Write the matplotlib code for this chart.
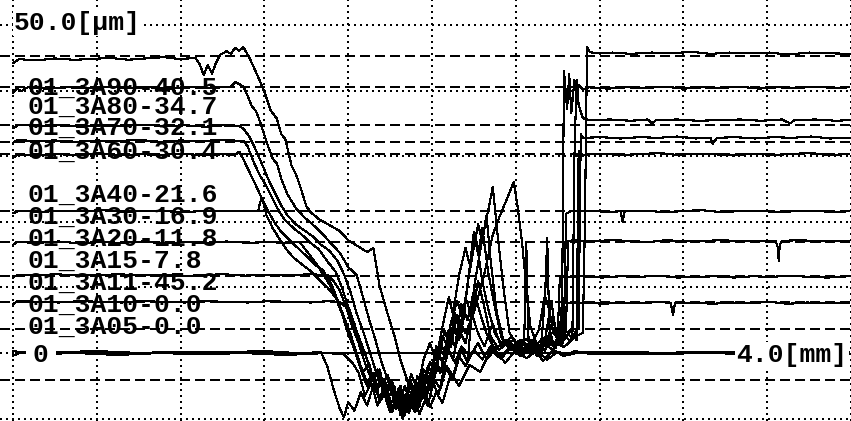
import numpy as np
import matplotlib
matplotlib.use("Agg")
import matplotlib.pyplot as plt

plt.rcParams["lines.antialiased"] = False

# sample names and printed offsets [um]
samples = ["01_3A90", "01_3A80", "01_3A70", "01_3A60", "01_3A40", "01_3A30",
           "01_3A20", "01_3A15", "01_3A11", "01_3A10", "01_3A05"]
offsets = [40.5, 34.7, 32.1, 30.4, 21.6, 16.9, 11.8, 7.8, 45.2, 0.0, 0.0]
ref_levels = [3.7, -4.1]

# profiles: (x [mm], z [um])
p_3a11 = [(0.00, 44.2), (0.03, 44.8), (0.11, 44.6), (0.20, 44.9), (0.29, 44.7), (0.37, 44.8),
          (0.46, 45.0), (0.55, 44.7), (0.63, 44.9), (0.72, 45.1), (0.80, 44.8), (0.87, 45.0),
          (0.89, 44.1), (0.91, 42.4), (0.93, 43.9), (0.95, 42.6), (0.97, 44.3), (0.99, 45.5),
          (1.02, 46.0), (1.04, 45.6), (1.06, 46.5), (1.08, 46.1), (1.10, 46.6), (1.13, 44.9),
          (1.17, 42.1), (1.20, 39.8), (1.23, 37.0), (1.26, 35.7), (1.28, 33.4), (1.30, 32.6),
          (1.33, 28.5), (1.35, 27.3), (1.37, 25.5), (1.40, 22.4), (1.42, 21.5), (1.46, 20.4),
          (1.51, 19.5), (1.56, 18.6), (1.60, 17.2), (1.65, 16.2), (1.69, 15.4), (1.72, 16.0),
          (1.75, 10.2), (1.79, 5.8), (1.82, 2.7), (1.85, -1.1), (1.89, -4.9), (1.93, -7.2),
          (1.96, -5.0), (1.99, -8.3), (2.02, -6.0), (2.05, -7.6), (2.09, -3.2), (2.13, -5.0),
          (2.18, -1.8), (2.23, -2.9), (2.28, 0.4), (2.33, -0.9), (2.38, 1.1), (2.43, 0.0),
          (2.48, 1.5), (2.53, 0.4), (2.58, 1.7), (2.63, 0.9), (2.68, 2.4), (2.72, 3.1),
          (2.73, 20.0), (2.74, 46.6), (2.75, 46.0), (2.77, 45.7), (2.86, 45.8), (2.95, 45.6),
          (3.05, 45.8), (3.14, 45.7), (3.24, 45.9), (3.33, 45.6), (3.42, 45.8), (3.52, 45.7),
          (3.61, 45.8), (3.70, 45.5), (3.80, 45.8), (3.89, 45.7), (3.99, 45.6)]

p_3a90 = [(0.00, 39.7), (0.02, 40.3), (0.04, 39.9), (0.07, 40.5), (0.16, 40.3), (0.26, 40.5),
          (0.35, 40.4), (0.45, 40.6), (0.55, 40.4), (0.65, 40.5), (0.75, 40.3), (0.85, 40.5),
          (0.95, 40.4), (1.04, 40.6), (1.06, 41.3), (1.08, 41.0), (1.10, 40.6), (1.12, 39.2),
          (1.14, 37.6), (1.16, 36.9), (1.18, 35.2), (1.21, 32.2), (1.24, 29.6), (1.26, 28.9),
          (1.28, 26.6), (1.31, 24.2), (1.35, 22.1), (1.39, 20.7), (1.43, 19.6), (1.48, 18.1),
          (1.52, 16.6), (1.56, 15.3), (1.60, 13.1), (1.64, 11.9), (1.67, 8.6), (1.70, 5.1),
          (1.73, 2.0), (1.76, -1.5), (1.79, -4.2), (1.82, -6.8), (1.85, -5.0), (1.88, -8.6),
          (1.91, -6.1), (1.94, -9.3), (1.97, -7.0), (2.00, -4.1), (2.03, -6.5), (2.06, -2.1),
          (2.10, -4.0), (2.14, 0.5), (2.17, -1.4), (2.20, 9.8), (2.24, 17.5), (2.27, 22.0),
          (2.29, 25.3), (2.31, 19.0), (2.34, 10.2), (2.37, 3.1), (2.41, 0.9), (2.45, 2.2),
          (2.50, 0.5), (2.55, 1.8), (2.59, 0.8), (2.62, 3.0), (2.63, 43.0), (2.645, 37.2),
          (2.655, 42.5), (2.665, 36.6), (2.68, 41.6), (2.69, 38.6), (2.70, 40.8), (2.72, 40.2),
          (2.75, 40.5), (2.84, 40.3), (2.93, 40.5), (3.02, 40.4), (3.11, 40.6), (3.20, 40.3),
          (3.29, 40.5), (3.38, 40.4), (3.47, 40.6), (3.56, 40.3), (3.65, 40.5), (3.74, 40.4),
          (3.83, 40.6), (3.92, 40.4), (3.99, 40.5)]

p_3a80 = [(0.00, 34.3), (0.03, 34.8), (0.12, 34.6), (0.22, 34.7), (0.32, 34.5), (0.42, 34.7),
          (0.52, 34.6), (0.62, 34.8), (0.72, 34.6), (0.82, 34.7), (0.92, 34.5), (1.00, 34.7),
          (1.08, 34.6), (1.10, 34.2), (1.13, 32.9), (1.16, 30.9), (1.19, 28.7), (1.22, 26.4),
          (1.25, 24.4), (1.28, 22.5), (1.31, 21.0), (1.35, 19.6), (1.39, 18.7), (1.43, 17.8),
          (1.47, 16.5), (1.51, 15.6), (1.55, 14.0), (1.58, 12.0), (1.61, 9.4), (1.64, 6.1),
          (1.67, 3.4), (1.70, 0.5), (1.73, -2.6), (1.76, -5.1), (1.79, -3.4), (1.82, -7.6),
          (1.85, -5.4), (1.88, -9.0), (1.91, -6.4), (1.94, -8.2), (1.97, -3.1), (2.00, -5.6),
          (2.03, -1.0), (2.06, 3.4), (2.09, 0.9), (2.12, 5.8), (2.16, 3.0), (2.20, 6.2),
          (2.25, 12.1), (2.29, 18.0), (2.32, 20.6), (2.35, 22.9), (2.39, 26.1), (2.41, 22.0),
          (2.43, 16.8), (2.45, 10.1), (2.47, 4.0), (2.50, 1.4), (2.55, 2.6), (2.60, 1.2),
          (2.64, 3.4), (2.67, 2.1), (2.68, 30.0), (2.69, 41.6), (2.70, 37.8), (2.72, 35.8),
          (2.75, 35.5), (2.85, 35.6), (2.95, 35.4), (3.03, 35.6), (3.05, 35.0), (3.07, 35.5),
          (3.17, 35.6), (3.27, 35.4), (3.37, 35.5), (3.47, 35.6), (3.57, 35.4), (3.67, 35.6),
          (3.71, 35.0), (3.73, 35.5), (3.83, 35.6), (3.93, 35.4), (3.99, 35.5)]

p_3a70 = [(0.00, 32.0), (0.02, 32.5), (0.10, 32.3), (0.20, 32.4), (0.30, 32.2), (0.40, 32.4),
          (0.50, 32.3), (0.60, 32.5), (0.70, 32.2), (0.80, 32.4), (0.90, 32.3), (1.00, 32.5),
          (1.10, 32.3), (1.12, 31.5), (1.15, 29.0), (1.18, 27.0), (1.21, 25.4), (1.24, 23.5),
          (1.27, 21.6), (1.30, 20.2), (1.34, 19.0), (1.38, 18.0), (1.42, 16.8), (1.46, 15.8),
          (1.50, 14.0), (1.54, 12.4), (1.57, 10.0), (1.60, 7.1), (1.63, 4.4), (1.66, 1.5),
          (1.69, -1.0), (1.72, -4.1), (1.75, -2.5), (1.78, -6.6), (1.81, -4.4), (1.84, -8.1),
          (1.87, -5.0), (1.90, -7.8), (1.93, -3.5), (1.96, -6.0), (1.99, -1.4), (2.02, -3.0),
          (2.05, 2.6), (2.08, 0.5), (2.11, 6.1), (2.14, 3.0), (2.17, 10.6), (2.20, 16.1),
          (2.22, 19.6), (2.24, 17.0), (2.26, 21.0), (2.28, 14.1), (2.31, 6.0), (2.34, 2.1),
          (2.38, 0.5), (2.43, 2.0), (2.48, 0.0), (2.53, 1.6), (2.58, 0.4), (2.62, 3.1),
          (2.66, 1.8), (2.70, 4.0), (2.71, 33.4), (2.72, 32.8), (2.81, 32.9), (2.90, 32.7),
          (2.99, 32.9), (3.08, 32.8), (3.17, 33.0), (3.26, 32.7), (3.33, 32.8), (3.34, 31.9),
          (3.36, 32.8), (3.45, 32.9), (3.54, 32.7), (3.63, 32.9), (3.72, 32.8), (3.81, 33.0),
          (3.90, 32.7), (3.99, 32.8)]

p_3a60 = [(0.00, 29.7), (0.02, 30.3), (0.11, 30.1), (0.21, 30.3), (0.31, 30.2), (0.41, 30.4),
          (0.51, 30.1), (0.61, 30.3), (0.71, 30.2), (0.81, 30.4), (0.91, 30.1), (1.00, 30.3),
          (1.06, 30.2), (1.08, 30.7), (1.10, 29.5), (1.13, 27.5), (1.16, 25.5), (1.19, 23.4),
          (1.22, 21.5), (1.25, 19.8), (1.28, 18.5), (1.32, 17.2), (1.36, 16.0), (1.40, 14.8),
          (1.44, 13.5), (1.48, 12.6), (1.52, 10.5), (1.55, 8.0), (1.58, 5.5), (1.61, 3.0),
          (1.64, 0.0), (1.67, -3.0), (1.70, -1.5), (1.73, -5.5), (1.76, -3.8), (1.79, -7.0),
          (1.82, -5.0), (1.85, -9.5), (1.88, -6.0), (1.91, -8.0), (1.94, -4.0), (1.97, -6.5),
          (2.00, -2.0), (2.03, 1.0), (2.06, -0.5), (2.09, 4.5), (2.12, 8.0), (2.15, 5.0),
          (2.18, 13.0), (2.20, 18.5), (2.22, 15.0), (2.24, 19.0), (2.27, 12.0), (2.30, 7.0),
          (2.33, 2.5), (2.37, 0.5), (2.42, 2.0), (2.47, 0.3), (2.52, 1.0), (2.54, 8.6),
          (2.56, 6.5), (2.58, 3.0), (2.62, 1.5), (2.66, 3.5), (2.69, 2.0), (2.70, 30.8),
          (2.72, 30.2), (2.81, 30.4), (2.90, 30.2), (2.99, 30.3), (3.08, 30.5), (3.17, 30.2),
          (3.26, 30.4), (3.35, 30.3), (3.44, 30.1), (3.53, 30.4), (3.62, 30.2), (3.71, 30.3),
          (3.80, 30.5), (3.89, 30.2), (3.99, 30.3)]

p_3a40 = [(0.00, 21.3), (0.03, 21.7), (0.13, 21.5), (0.23, 21.7), (0.33, 21.6), (0.43, 21.8),
          (0.53, 21.5), (0.63, 21.7), (0.73, 21.6), (0.83, 21.5), (0.93, 21.7), (1.03, 21.6),
          (1.11, 21.7), (1.17, 21.6), (1.18, 23.0), (1.19, 23.5), (1.21, 21.0), (1.24, 19.0),
          (1.27, 17.5), (1.30, 16.0), (1.34, 14.5), (1.38, 13.5), (1.42, 12.5), (1.46, 11.2),
          (1.50, 10.0), (1.54, 8.5), (1.57, 6.0), (1.60, 3.5), (1.63, 1.0), (1.66, -2.0),
          (1.69, -4.5), (1.72, -3.0), (1.75, -7.0), (1.78, -5.2), (1.81, -8.8), (1.84, -6.0),
          (1.87, -7.5), (1.90, -3.2), (1.93, -5.5), (1.96, -1.0), (1.99, 1.5), (2.02, -1.0),
          (2.05, 4.0), (2.08, 8.5), (2.10, 6.0), (2.13, 12.0), (2.16, 16.0), (2.18, 13.5),
          (2.21, 17.5), (2.24, 11.0), (2.27, 6.5), (2.30, 3.0), (2.34, 1.0), (2.39, 2.0),
          (2.44, 0.5), (2.49, 1.5), (2.54, 0.3), (2.58, 5.5), (2.60, 2.0), (2.63, 3.5),
          (2.64, 21.2), (2.66, 21.6), (2.75, 21.7), (2.84, 21.5), (2.90, 21.6), (2.91, 20.0),
          (2.92, 21.6), (3.01, 21.7), (3.10, 21.5), (3.19, 21.6), (3.28, 21.8), (3.37, 21.5),
          (3.46, 21.6), (3.55, 21.7), (3.64, 21.5), (3.73, 21.6), (3.82, 21.7), (3.91, 21.5),
          (3.99, 21.6)]

p_3a30 = [(0.00, 16.5), (0.02, 16.9), (0.12, 16.8), (0.22, 17.0), (0.32, 16.7), (0.42, 16.9),
          (0.52, 16.8), (0.62, 17.0), (0.72, 16.7), (0.82, 16.9), (0.92, 16.8), (1.02, 17.0),
          (1.12, 16.8), (1.22, 16.9), (1.30, 16.8), (1.37, 16.9), (1.39, 16.0), (1.42, 14.8),
          (1.45, 13.5), (1.48, 12.0), (1.51, 10.5), (1.54, 8.5), (1.57, 6.0), (1.60, 3.0),
          (1.63, 0.5), (1.66, -2.5), (1.69, -5.0), (1.72, -3.5), (1.75, -7.5), (1.78, -5.8),
          (1.81, -9.0), (1.84, -6.5), (1.87, -8.0), (1.90, -4.5), (1.93, -6.8), (1.96, -2.5),
          (1.99, -4.0), (2.02, 1.0), (2.05, -1.5), (2.08, 3.5), (2.11, 1.0), (2.14, 7.5),
          (2.17, 5.0), (2.20, 9.5), (2.23, 6.0), (2.26, 3.0), (2.30, 0.5), (2.35, 2.0),
          (2.40, 0.0), (2.44, 1.5), (2.45, 16.9), (2.46, 2.5), (2.50, -0.5), (2.54, 2.0),
          (2.57, 8.0), (2.59, 3.0), (2.62, 1.0), (2.64, 4.0), (2.65, 17.0), (2.67, 17.2),
          (2.76, 17.0), (2.85, 17.2), (2.94, 17.1), (3.03, 16.9), (3.12, 17.2), (3.21, 17.0),
          (3.30, 17.1), (3.39, 17.2), (3.48, 17.0), (3.57, 17.1), (3.64, 17.1), (3.65, 16.2),
          (3.655, 14.0), (3.66, 16.5), (3.67, 17.1), (3.76, 17.2), (3.85, 17.0), (3.94, 17.1),
          (3.99, 17.0)]

p_3a20 = [(0.00, 11.5), (0.02, 11.9), (0.11, 11.8), (0.21, 12.0), (0.31, 11.8), (0.41, 11.9),
          (0.51, 12.0), (0.61, 11.8), (0.71, 11.9), (0.81, 11.7), (0.91, 11.9), (1.01, 12.0),
          (1.11, 11.8), (1.21, 11.9), (1.31, 11.8), (1.41, 12.0), (1.50, 11.9), (1.53, 11.0),
          (1.56, 9.5), (1.59, 7.0), (1.62, 4.0), (1.65, 1.5), (1.68, -1.5), (1.71, -4.0),
          (1.74, -2.5), (1.77, -6.5), (1.80, -4.5), (1.83, -8.5), (1.86, -6.0), (1.89, -9.2),
          (1.92, -5.0), (1.95, -7.0), (1.98, -2.0), (2.01, -3.5), (2.04, 1.5), (2.07, -0.5),
          (2.10, 4.0), (2.13, 2.0), (2.16, 8.5), (2.19, 5.5), (2.22, 11.0), (2.25, 7.0),
          (2.28, 2.5), (2.32, 0.5), (2.37, 1.8), (2.42, -0.5), (2.47, 1.0), (2.51, 3.5),
          (2.54, 9.0), (2.55, 17.5), (2.56, 4.0), (2.58, 1.0), (2.60, 2.5), (2.61, 11.5),
          (2.63, 11.6), (2.72, 11.7), (2.81, 11.5), (2.90, 11.7), (2.99, 11.6), (3.08, 11.8),
          (3.17, 11.5), (3.26, 11.6), (3.35, 11.7), (3.44, 11.5), (3.53, 11.7), (3.62, 11.6),
          (3.71, 11.8), (3.80, 11.6), (3.89, 11.5), (3.99, 11.7)]

p_3a15 = [(0.00, 7.4), (0.02, 7.9), (0.12, 7.8), (0.22, 7.7), (0.32, 7.9), (0.42, 7.8),
          (0.52, 7.7), (0.62, 7.9), (0.72, 7.8), (0.82, 7.7), (0.92, 7.9), (1.02, 7.8),
          (1.12, 7.7), (1.22, 7.9), (1.32, 7.8), (1.42, 7.7), (1.50, 7.9), (1.56, 7.8),
          (1.59, 7.0), (1.62, 5.0), (1.65, 2.5), (1.68, 0.0), (1.71, -3.0), (1.74, -5.5),
          (1.77, -4.0), (1.80, -8.0), (1.83, -6.0), (1.86, -9.5), (1.89, -7.0), (1.92, -8.5),
          (1.95, -4.0), (1.98, -6.0), (2.01, -1.5), (2.04, -3.0), (2.07, 1.0), (2.10, -1.0),
          (2.13, 3.5), (2.16, 1.5), (2.19, 6.0), (2.22, 3.0), (2.25, 1.0), (2.29, 4.5),
          (2.33, 1.0), (2.38, 2.5), (2.43, 0.5), (2.48, 2.0), (2.52, 0.0), (2.55, 2.5),
          (2.58, 1.0), (2.61, 3.0), (2.62, 7.7), (2.64, 7.6), (2.73, 7.7), (2.82, 7.5),
          (2.91, 7.7), (3.00, 7.6), (3.09, 7.8), (3.14, 7.6), (3.15, 5.8), (3.16, 7.6),
          (3.25, 7.7), (3.34, 7.5), (3.43, 7.7), (3.52, 7.6), (3.61, 7.8), (3.70, 7.5),
          (3.79, 7.7), (3.88, 7.6), (3.99, 7.7)]

p_3a10 = [(0.00, -0.4), (0.05, 0.2), (0.20, 0.1), (0.40, 0.3), (0.60, 0.0), (0.80, 0.2),
          (1.00, 0.1), (1.20, 0.3), (1.35, 0.0), (1.47, 0.1), (1.50, -2.0), (1.53, -5.5),
          (1.56, -8.5), (1.58, -9.8), (1.60, -7.5), (1.63, -8.8), (1.66, -6.0), (1.69, -8.0),
          (1.72, -5.0), (1.75, -7.0), (1.78, -4.5), (1.81, -8.5), (1.84, -5.5), (1.87, -9.5),
          (1.90, -6.0), (1.93, -7.5), (1.96, -3.5), (1.99, -5.0), (2.02, -1.5), (2.05, -3.0),
          (2.08, 0.5), (2.11, -1.5), (2.14, 1.0), (2.18, -0.5), (2.22, 1.5), (2.26, -1.0),
          (2.30, 0.5), (2.35, -1.5), (2.40, 0.5), (2.45, -0.8), (2.50, 0.3), (2.55, -1.0),
          (2.60, 0.2), (2.65, -0.3), (2.70, 0.1), (2.90, 0.2), (3.10, 0.0), (3.30, 0.2),
          (3.50, 0.1), (3.99, 0.1)]

p_3a05 = [(0.00, 0.3), (0.10, -0.2), (0.30, 0.0), (0.50, -0.3), (0.70, 0.0), (0.90, -0.2),
          (1.10, 0.0), (1.30, -0.3), (1.50, 0.0), (1.58, -0.2), (1.62, -1.5), (1.65, -3.0),
          (1.68, -6.5), (1.71, -4.5), (1.74, -8.0), (1.77, -6.0), (1.80, -9.0), (1.83, -7.0),
          (1.86, -10.0), (1.89, -7.5), (1.92, -9.0), (1.95, -6.0), (1.98, -8.0), (2.01, -4.0),
          (2.04, -5.5), (2.07, -2.0), (2.10, -3.5), (2.13, -0.5), (2.16, -2.0), (2.20, 0.5),
          (2.24, -1.0), (2.28, 1.0), (2.33, -0.5), (2.38, 1.2), (2.43, -0.3), (2.48, 0.8),
          (2.53, -1.2), (2.58, 0.5), (2.63, -0.5), (2.68, 0.3), (2.75, -0.1), (3.00, -0.2),
          (3.30, 0.0), (3.60, -0.2), (3.99, -0.1)]

profiles = [p_3a90, p_3a80, p_3a70, p_3a60, p_3a40, p_3a30,
            p_3a20, p_3a15, p_3a11, p_3a10, p_3a05]

# where the instrument printed the sample list (z in um)
label_z = [40.4, 37.5, 34.3, 30.6, 24.1, 20.7, 17.4, 14.0, 10.7, 7.3, 4.0]

font = dict(family="Liberation Mono", weight="bold", size=19, color="black")
dots = (0, (1.0, 2.2))
dashes = (0, (5.0, 2.8))

fig = plt.figure(figsize=(8.51, 4.21), dpi=100)
ax = fig.add_axes([0, 0, 1, 1])
ax.set_xlim(-13 / 210, 838 / 210)
ax.set_ylim(-68 / 6.56, 353 / 6.56)

ax.set_xticks(np.arange(0, 4.01, 0.4))
ax.set_yticks(np.arange(-10, 51, 10))
ax.grid(True, color="black", linestyle=dots, linewidth=1.44)
ax.set_axisbelow(True)
ax.tick_params(length=0, labelbottom=False, labelleft=False)
for s in ax.spines.values():
    s.set_visible(False)

# reference levels for every sample
for z in offsets + ref_levels:
    if z != 0:
        ax.axhline(z, color="black", linestyle=dashes, linewidth=1.44, zorder=1)

ax.plot([0.25, 3.45], [0, 0], color="black", linewidth=1.2, zorder=2)

for prof in profiles:
    xs, zs = zip(*prof)
    ax.plot(xs, zs, color="black", linewidth=0.8, zorder=2)

for name, off, z in zip(samples, offsets, label_z):
    ax.text(0.071, z, f"{name}-{off:.1f}", ha="left", va="center", zorder=3, **font)

box = dict(facecolor="white", edgecolor="none", pad=1.0)
ax.text(0.005, 50.3, "50.0[µm]", ha="left", va="center", zorder=4, bbox=box, **font)
ax.text(0.095, -0.3, "0", ha="left", va="center", zorder=4,
        bbox=dict(facecolor="white", edgecolor="none", pad=5.0), **font)
ax.text(3.452, -0.3, "4.0[mm]", ha="left", va="center", zorder=4, bbox=box, **font)

fig.savefig("out.png", dpi=100)
